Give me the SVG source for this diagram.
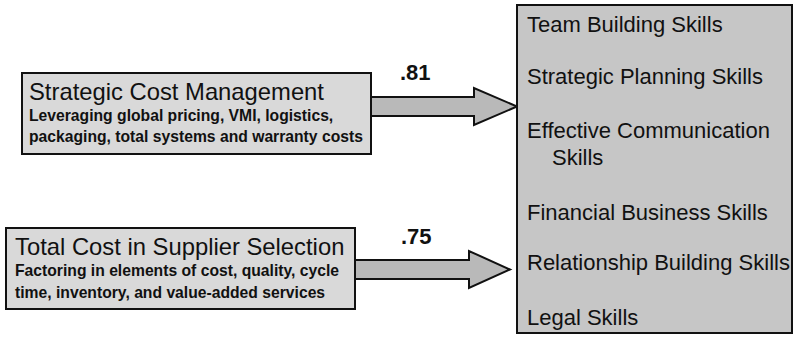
<svg xmlns="http://www.w3.org/2000/svg" width="795" height="337" viewBox="0 0 795 337">
  <style>
    .box { fill: #d9d9d9; stroke: #111; stroke-width: 2; }
    .skills { fill: #c6c6c6; stroke: #111; stroke-width: 2; }
    .arrow { fill: #b9b9b9; stroke: #111; stroke-width: 2; stroke-linejoin: miter; }
    .title { font-family: "Liberation Sans", Arial, sans-serif; font-size: 23.8px; fill: #111; }
    .sub { font-family: "Liberation Sans", Arial, sans-serif; font-size: 15.7px; font-weight: bold; fill: #111; }
    .skill { font-family: "Liberation Sans", Arial, sans-serif; font-size: 22px; fill: #111; }
    .weight { font-family: "Liberation Sans", Arial, sans-serif; font-size: 22px; font-weight: bold; fill: #111; }
  </style>
  <rect width="795" height="337" fill="#ffffff"/>

  <!-- connectors: wide block arrows with path weights -->
  <g id="connectors">
    <polygon class="arrow" points="371,97 474,97 474,88 517,106.5 474,125 474,116 371,116"/>
    <text class="weight" x="400" y="80">.81</text>
    <polygon class="arrow" points="355,260 469,260 469,251 510,269.5 469,288 469,279 355,279"/>
    <text class="weight" x="401" y="244">.75</text>
  </g>

  <g id="strategic-cost-management">
    <rect class="box" x="22" y="73" width="349" height="81"/>
    <text class="title" x="29" y="100">Strategic Cost Management</text>
    <text class="sub" x="29" y="121">Leveraging global pricing, VMI, logistics,</text>
    <text class="sub" x="29" y="142">packaging, total systems and warranty costs</text>
  </g>

  <g id="total-cost-supplier-selection">
    <rect class="box" x="6" y="228" width="349" height="81"/>
    <text class="title" x="15" y="255">Total Cost in Supplier Selection</text>
    <text class="sub" x="15" y="276">Factoring in elements of cost, quality, cycle</text>
    <text class="sub" x="15" y="298">time, inventory, and value-added services</text>
  </g>

  <g id="skills">
    <rect class="skills" x="517" y="5" width="275" height="328"/>
    <text class="skill" x="527" y="32">Team Building Skills</text>
    <text class="skill" x="527" y="84">Strategic Planning Skills</text>
    <text class="skill" x="527" y="138">Effective Communication</text>
    <text class="skill" x="552" y="165">Skills</text>
    <text class="skill" x="527" y="220">Financial Business Skills</text>
    <text class="skill" x="527" y="270">Relationship Building Skills</text>
    <text class="skill" x="527" y="325">Legal Skills</text>
  </g>
</svg>
